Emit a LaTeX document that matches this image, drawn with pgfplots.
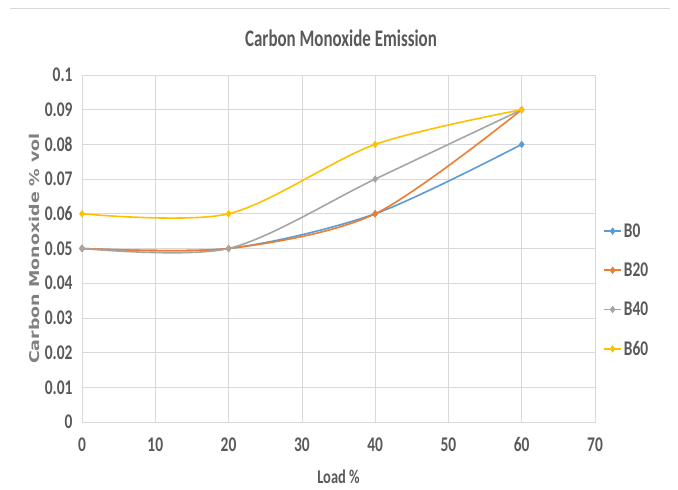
\documentclass[border=0pt]{standalone}
\usepackage{pgfplots}
\pgfplotsset{compat=1.18}
\usepackage{fontspec}
\setmainfont{Carlito}
\newfontfamily\ylabfont{DejaVu Sans}
\definecolor{cB0}{HTML}{5B9BD5}
\definecolor{cB20}{HTML}{ED7D31}
\definecolor{cB40}{HTML}{A5A5A5}
\definecolor{cB60}{HTML}{FFC000}
\definecolor{txt}{HTML}{595959}
\definecolor{gridc}{HTML}{D9D9D9}
\newcommand{\tall}[1]{\scalebox{1}[1.35]{#1}}

\begin{document}
\begin{tikzpicture}[x=1bp,y=1bp]
  \path[use as bounding box] (0,0) rectangle (678,490);
  \draw[gridc, line width=0.8bp] (10,482) -- (670,482);
  \node[font=\bfseries\fontsize{17}{19}\selectfont, text=txt] at (341,452) {\scalebox{1}[1.4]{Carbon Monoxide Emission}};
  \begin{axis}[
    at={(82bp,68bp)}, anchor=south west,
    scale only axis,
    width=513bp, height=347bp,
    xmin=0, xmax=70, ymin=0, ymax=0.1,
    xtick={0,10,...,70},
    ytick={0,0.01,0.02,0.03,0.04,0.05,0.06,0.07,0.08,0.09,0.1},
    major tick length=0pt,
    grid=major,
    grid style={gridc, line width=0.6bp},
    axis line style={gridc, line width=0.6bp},
    /pgf/number format/assume math mode=true,
    ticklabel style={font=\bfseries\fontsize{15.5}{17}\selectfont, text=txt},
    xticklabel={\tall{\pgfmathprintnumber{\tick}}},
    yticklabel={\tall{\pgfmathprintnumber[fixed,precision=2]{\tick}}},
    xticklabel style={yshift=-12bp},
    yticklabel style={xshift=-6bp},
    xlabel={\tall{Load \%}},
    xlabel style={font=\bfseries\fontsize{14.5}{16}\selectfont, text=txt, yshift=-11bp},
    ylabel={\scalebox{1.3}[1]{Carbon Monoxide \% vol}},
    ylabel style={font=\ylabfont\bfseries\fontsize{13.5}{15}\selectfont, text=gray, yshift=-2bp},
    legend style={draw=none, fill=none, at={(1.01,0.38)}, anchor=west,
      font=\bfseries\fontsize{15.5}{17}\selectfont, text=txt, row sep=20bp},
    legend cell align=left,
    every axis plot/.append style={line width=1.6bp, smooth, tension=0.5,
      mark=diamond*, mark size=2.5bp},
  ]
  \addplot[cB0, mark options={fill=cB0}] coordinates {(0,0.05) (20,0.05) (40,0.06) (60,0.08)};
  \addlegendentry{\tall{B0}}
  \addplot[cB20, mark options={fill=cB20}] coordinates {(0,0.05) (20,0.05) (40,0.06) (60,0.09)};
  \addlegendentry{\tall{B20}}
  \addplot[cB40, mark options={fill=cB40}] coordinates {(0,0.05) (20,0.05) (40,0.07) (60,0.09)};
  \addlegendentry{\tall{B40}}
  \addplot[cB60, mark options={fill=cB60}] coordinates {(0,0.06) (20,0.06) (40,0.08) (60,0.09)};
  \addlegendentry{\tall{B60}}
  \end{axis}
\end{tikzpicture}
\end{document}
